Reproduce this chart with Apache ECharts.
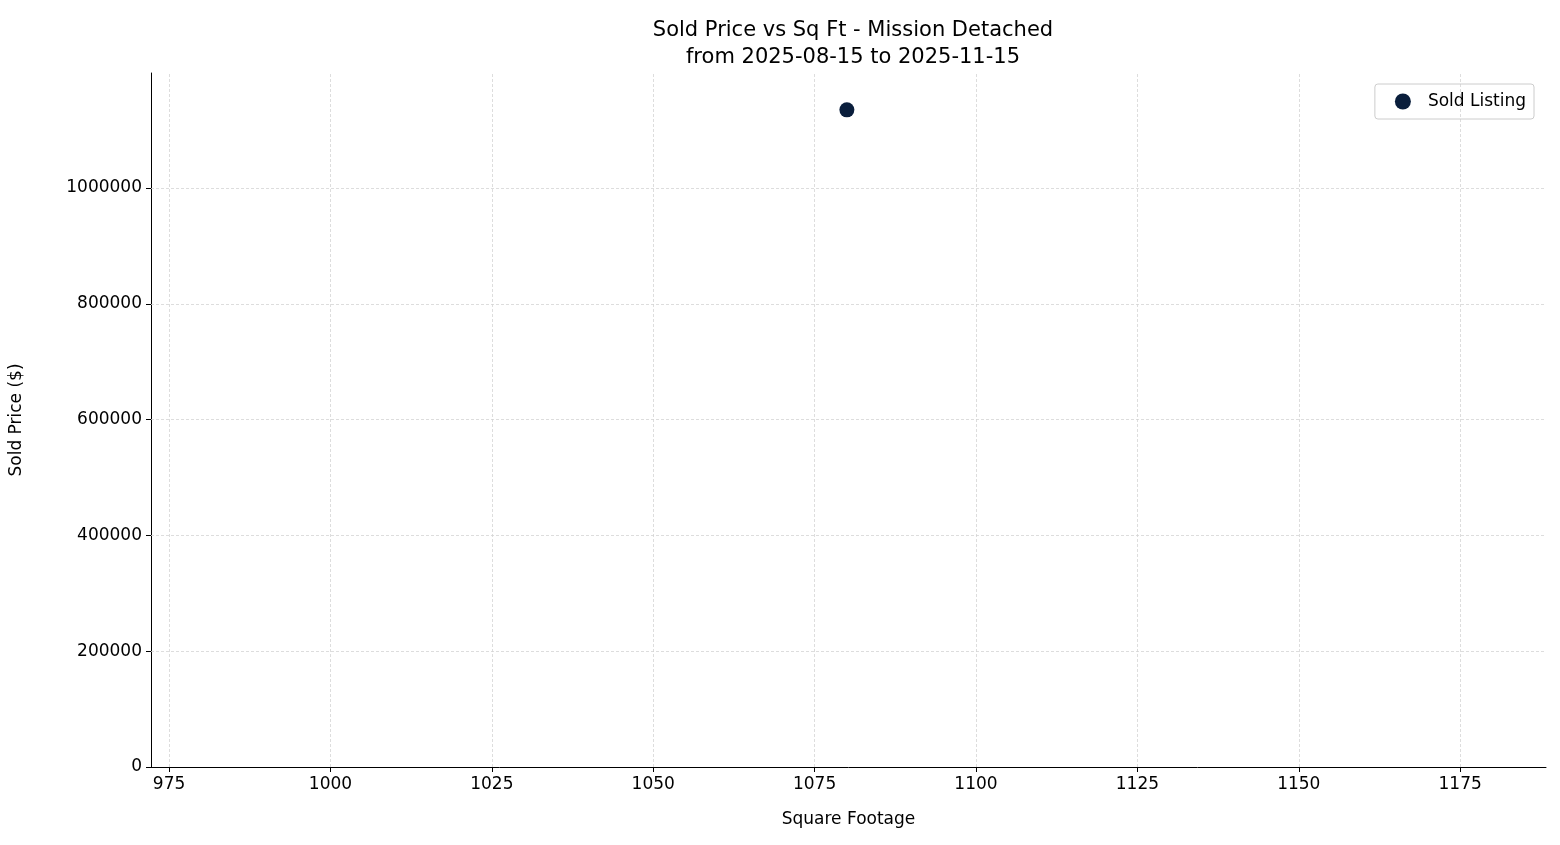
<!DOCTYPE html>
<html><head><meta charset="utf-8">
<script src="https://cdn.jsdelivr.net/npm/echarts@6/dist/echarts.min.js"></script>
<style>html,body{margin:0;padding:0;background:#fff}#c{width:1560px;height:845px}</style>
</head><body><div id="c"></div>
<script>
const sqft = [1080];
const price = [1135000];
const xTicks = [975, 1000, 1025, 1050, 1075, 1100, 1125, 1150, 1175];
const yTicks = [0, 200000, 400000, 600000, 800000, 1000000];
const font = 'DejaVu Sans';
const chart = echarts.init(document.getElementById('c'));
const grid = {color:'#d4d4d4', type:[3,2], width:0.8};
chart.setOption({
  animation:false,
  textStyle:{fontFamily:font},
  title:{text:'Sold Price vs Sq Ft - Mission Detached\nfrom 2025-08-15 to 2025-11-15', left:848, top:12, textAlign:'center',
    textStyle:{fontFamily:font, fontSize:21, fontWeight:'normal', color:'#000', lineHeight:27}},
  legend:{right:26, top:84, orient:'vertical', itemWidth:16, itemHeight:16, padding:[9,8,9,20], itemGap:8,
    borderColor:'#cccccc', borderWidth:1, borderRadius:3,
    textStyle:{fontFamily:font, fontSize:17, color:'#000', padding:[0,0,0,12]},
    data:[{name:'Sold Listing', icon:'circle'}]},
  grid:{left:151, right:14, top:73, bottom:78},
  xAxis:{type:'value', min:972.2, max:1188.3, name:'Square Footage', nameLocation:'middle', nameGap:44,
    nameTextStyle:{fontFamily:font, fontSize:17, color:'#000'},
    axisLine:{onZero:false, lineStyle:{color:'#000'}},
    axisTick:{customValues:xTicks, length:5, lineStyle:{color:'#000'}},
    axisLabel:{customValues:xTicks, fontFamily:font, fontSize:17, color:'#000', margin:9, formatter:v=>String(v)},
    splitLine:{show:false}},
  yAxis:{type:'value', min:0, max:1198600, interval:200000, name:'Sold Price ($)', nameLocation:'middle', nameGap:126,
    nameTextStyle:{fontFamily:font, fontSize:17, color:'#000'},
    axisLine:{show:true, lineStyle:{color:'#000'}},
    axisTick:{show:true, length:5, lineStyle:{color:'#000'}},
    axisLabel:{fontFamily:font, fontSize:17, color:'#000', showMaxLabel:false, margin:9, formatter:v=>String(v)},
    splitLine:{show:false}},
  series:[{name:'Sold Listing', type:'scatter', symbolSize:15, itemStyle:{color:'#0a1e3c', opacity:1},
    data: sqft.map((x,i)=>[x, price[i]]), z:5,
    markLine:{silent:true, symbol:'none', label:{show:false}, lineStyle:grid, z:1,
      data:[...xTicks.map(v=>({xAxis:v})), ...yTicks.filter(v=>v>0).map(v=>({yAxis:v}))]}}]
});
</script></body></html>
